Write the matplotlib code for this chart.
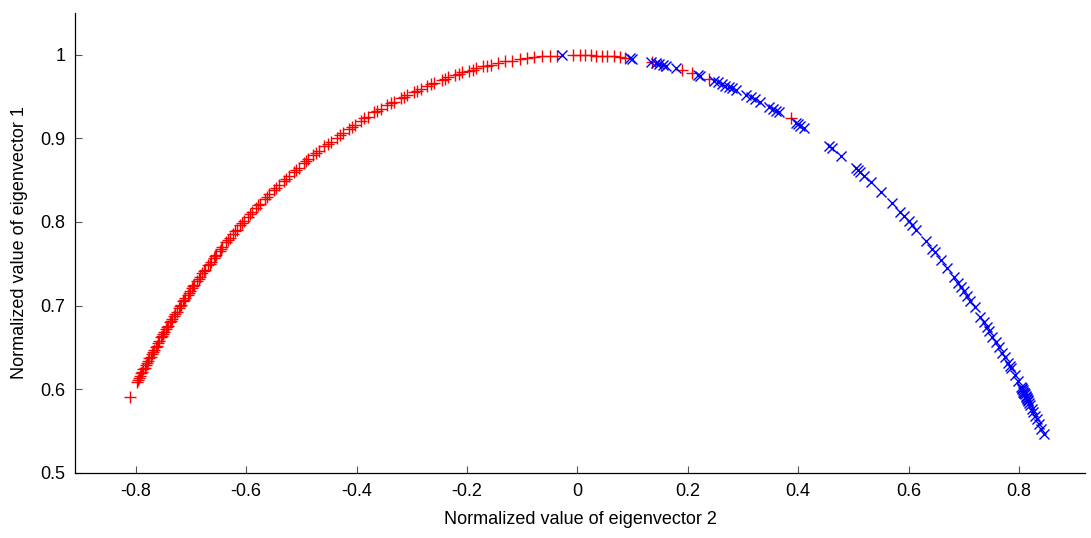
import matplotlib
matplotlib.use("Agg")
import matplotlib.pyplot as plt

# points: (eigenvector 2, eigenvector 1)
red_x = [-0.811, -0.798, -0.794, -0.790, -0.786, -0.782, -0.778, -0.775, -0.771, -0.767,
         -0.764, -0.760, -0.757, -0.754, -0.752, -0.748, -0.745, -0.741, -0.738, -0.734,
         -0.730, -0.726, -0.722, -0.718, -0.714, -0.710, -0.706, -0.702, -0.698, -0.694,
         -0.689, -0.684, -0.679, -0.674, -0.669, -0.664, -0.659, -0.654, -0.648, -0.643,
         -0.636, -0.630, -0.624, -0.617, -0.611, -0.604, -0.597, -0.589, -0.582, -0.574,
         -0.566, -0.558, -0.550, -0.541, -0.532, -0.523, -0.514, -0.505, -0.496, -0.487,
         -0.478, -0.468, -0.458, -0.447, -0.436, -0.425, -0.414, -0.403, -0.392, -0.380,
         -0.368, -0.356, -0.344, -0.332, -0.320, -0.308, -0.296, -0.284, -0.272, -0.259,
         -0.246, -0.234, -0.221, -0.208, -0.196, -0.183, -0.170, -0.157, -0.144, -0.131,
         -0.118, -0.104, -0.091, -0.078, -0.064, -0.050, -0.036, -0.008, 0.004, 0.014,
         0.024, 0.034, 0.044, 0.054, 0.066, 0.078, 0.086, 0.135, 0.152, 0.190,
         0.208, 0.239, 0.387,
         -0.796, -0.792, -0.788, -0.784, -0.780, -0.773, -0.769, -0.762, -0.750, -0.743,
         -0.736, -0.728, -0.720, -0.712, -0.704, -0.696, -0.686, -0.676, -0.666, -0.656,
         -0.645, -0.633, -0.620, -0.607, -0.593, -0.578, -0.562, -0.545, -0.527, -0.509,
         -0.491, -0.473, -0.452, -0.430, -0.408, -0.386, -0.362, -0.338, -0.314, -0.290,
         -0.265, -0.240, -0.214, -0.189, -0.163]
red_y = [0.591, 0.609, 0.614, 0.619, 0.624, 0.629, 0.634, 0.637, 0.642, 0.647,
         0.650, 0.655, 0.658, 0.662, 0.664, 0.669, 0.672, 0.676, 0.680, 0.684,
         0.688, 0.692, 0.697, 0.701, 0.705, 0.709, 0.713, 0.717, 0.721, 0.725,
         0.730, 0.734, 0.739, 0.743, 0.748, 0.752, 0.757, 0.761, 0.765, 0.770,
         0.776, 0.781, 0.786, 0.791, 0.796, 0.801, 0.806, 0.812, 0.817, 0.822,
         0.828, 0.833, 0.838, 0.844, 0.849, 0.855, 0.860, 0.865, 0.870, 0.875,
         0.880, 0.885, 0.891, 0.896, 0.901, 0.906, 0.911, 0.916, 0.921, 0.926,
         0.931, 0.935, 0.940, 0.944, 0.948, 0.952, 0.956, 0.959, 0.963, 0.966,
         0.970, 0.973, 0.976, 0.979, 0.981, 0.984, 0.986, 0.988, 0.990, 0.992,
         0.993, 0.995, 0.996, 0.997, 0.998, 0.999, 0.999, 1.000, 1.000, 1.000,
         1.000, 0.999, 0.999, 0.999, 0.998, 0.997, 0.996, 0.991, 0.988, 0.982,
         0.978, 0.971, 0.924,
         0.611, 0.616, 0.621, 0.626, 0.631, 0.639, 0.644, 0.652, 0.666, 0.674,
         0.682, 0.690, 0.699, 0.707, 0.715, 0.723, 0.732, 0.741, 0.750, 0.759,
         0.768, 0.778, 0.789, 0.799, 0.809, 0.820, 0.830, 0.841, 0.852, 0.862,
         0.873, 0.883, 0.893, 0.904, 0.914, 0.924, 0.933, 0.942, 0.950, 0.957,
         0.965, 0.971, 0.977, 0.982, 0.987]

blue_x = [-0.027, 0.096, 0.099, 0.134, 0.142, 0.148, 0.155, 0.160, 0.179, 0.219,
          0.222, 0.248, 0.255, 0.262, 0.268, 0.274, 0.280, 0.288, 0.306, 0.314,
          0.322, 0.330, 0.348, 0.354, 0.360, 0.366, 0.396, 0.400, 0.404, 0.410,
          0.456, 0.461, 0.478, 0.505, 0.508, 0.512, 0.520, 0.532, 0.550, 0.570,
          0.585, 0.592, 0.600, 0.606, 0.614, 0.632, 0.643, 0.648, 0.658, 0.670,
          0.682, 0.690, 0.695, 0.700, 0.706, 0.712, 0.720, 0.730, 0.736, 0.746,
          0.752, 0.758, 0.764, 0.770, 0.780, 0.786, 0.792, 0.798, 0.803, 0.806,
          0.808, 0.810, 0.812, 0.814, 0.816, 0.818, 0.820, 0.823, 0.826, 0.829,
          0.832, 0.836, 0.840, 0.845,
          0.805, 0.807, 0.809, 0.811, 0.813, 0.815, 0.817, 0.783, 0.775, 0.742]
blue_y = [1.000, 0.996, 0.995, 0.991, 0.990, 0.989, 0.988, 0.987, 0.984, 0.976,
          0.975, 0.969, 0.967, 0.965, 0.963, 0.962, 0.960, 0.958, 0.952, 0.950,
          0.947, 0.944, 0.938, 0.935, 0.933, 0.931, 0.918, 0.917, 0.915, 0.912,
          0.891, 0.888, 0.879, 0.864, 0.862, 0.860, 0.855, 0.848, 0.836, 0.823,
          0.812, 0.807, 0.801, 0.797, 0.791, 0.777, 0.768, 0.764, 0.755, 0.745,
          0.734, 0.727, 0.722, 0.717, 0.711, 0.706, 0.698, 0.687, 0.681, 0.670,
          0.663, 0.656, 0.650, 0.643, 0.632, 0.625, 0.617, 0.610, 0.603, 0.600,
          0.597, 0.595, 0.592, 0.590, 0.587, 0.584, 0.581, 0.577, 0.573, 0.568,
          0.564, 0.558, 0.552, 0.546,
          0.602, 0.599, 0.596, 0.594, 0.591, 0.588, 0.586, 0.628, 0.638, 0.674]

x_ticks = [-0.8, -0.6, -0.4, -0.2, 0, 0.2, 0.4, 0.6, 0.8]
x_tick_labels = ['-0.8', '-0.6', '-0.4', '-0.2', '0', '0.2', '0.4', '0.6', '0.8']
y_ticks = [0.5, 0.6, 0.7, 0.8, 0.9, 1.0]
y_tick_labels = ['0.5', '0.6', '0.7', '0.8', '0.9', '1']

plt.rcParams['font.family'] = ['Liberation Sans', 'DejaVu Sans']

fig = plt.figure(figsize=(10.91, 5.38), dpi=100)
ax = fig.add_axes([0.0687, 0.121, 0.926, 0.855])

ax.plot(red_x, red_y, linestyle='none', marker='+', color='red',
        markersize=9, markeredgewidth=1.0)
ax.plot(blue_x, blue_y, linestyle='none', marker='x', color='blue',
        markersize=7, markeredgewidth=1.0)

ax.set_xlim(-0.91, 0.92)
ax.set_ylim(0.5, 1.05)
ax.set_xticks(x_ticks)
ax.set_xticklabels(x_tick_labels)
ax.set_yticks(y_ticks)
ax.set_yticklabels(y_tick_labels)

ax.spines['top'].set_visible(False)
ax.spines['right'].set_visible(False)
for s in ['left', 'bottom']:
    ax.spines[s].set_linewidth(0.9)
ax.tick_params(direction='in', length=5, width=0.8, color='#555555',
               labelsize=13, pad=7)

ax.set_xlabel('Normalized value of eigenvector 2', fontsize=13, labelpad=8)
ax.set_ylabel('Normalized value of eigenvector 1', fontsize=13, labelpad=9)

fig.savefig('out.png', dpi=100)
